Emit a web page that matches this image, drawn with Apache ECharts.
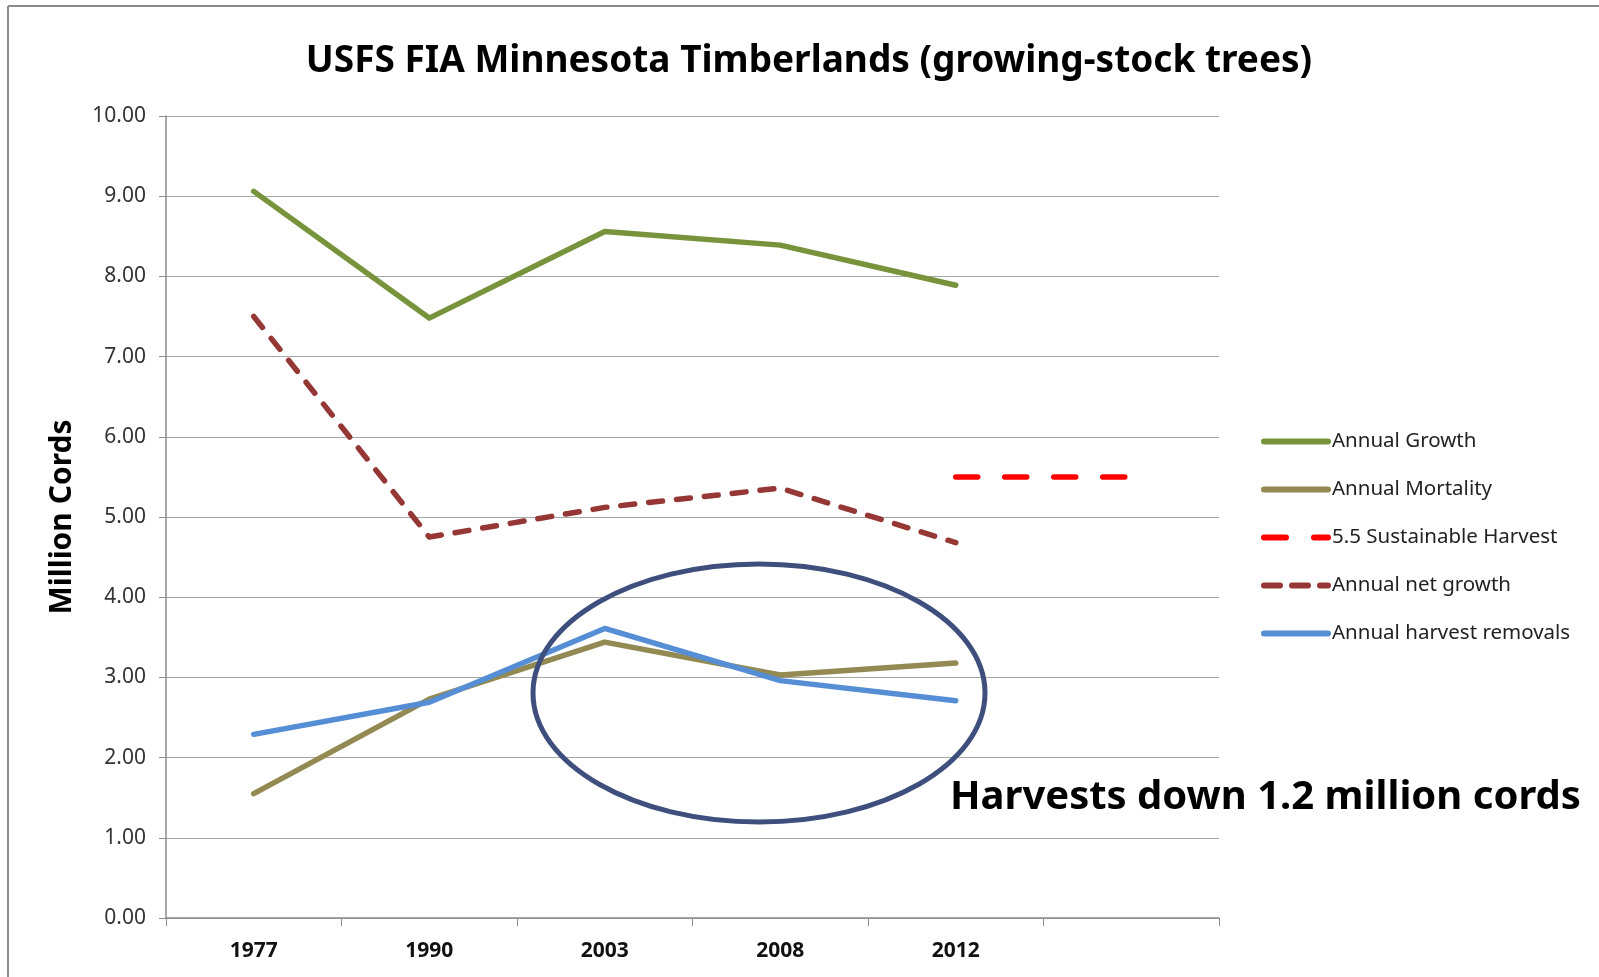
<!DOCTYPE html>
<html>
<head>
<meta charset="utf-8">
<script src="https://cdn.jsdelivr.net/npm/echarts@6/dist/echarts.min.js"></script>
<style>
  html, body { margin: 0; padding: 0; background: #fff; }
  #chart { width: 1599px; height: 977px; }
</style>
</head>
<body>
<div id="chart"></div>
<script>
// categories (last slot is empty, only the sustainable line reaches it)
const years = ['1977', '1990', '2003', '2008', '2012', ''];

const annualGrowth = [9.06, 7.48, 8.56, 8.39, 7.89, null];
const annualMortality = [1.55, 2.73, 3.44, 3.03, 3.18, null];
const sustainableHarvest = [null, null, null, null, 5.5, 5.5];
const annualNetGrowth = [7.50, 4.75, 5.12, 5.36, 4.68, null];
const harvestRemovals = [2.29, 2.69, 3.61, 2.96, 2.71, null];

const yTicks = [0, 10, 1]; // min, max, step

const FONT = '"Noto Sans", "Open Sans", sans-serif';

// legend icons drawn in a 70x6 box (solid bar / long dashes / short dashes)
const ICON_SOLID = 'path://M3,0 H67 A3,3 0 0 1 67,6 H3 A3,3 0 0 1 3,0 Z';
const ICON_LONGDASH = 'path://M3,0 H25 A3,3 0 0 1 25,6 H3 A3,3 0 0 1 3,0 Z M53,0 H67 A3,3 0 0 1 67,6 H53 A3,3 0 0 1 53,0 Z';
const ICON_SHORTDASH = 'path://M3,0 H19 A3,3 0 0 1 19,6 H3 A3,3 0 0 1 3,0 Z M31,0 H47 A3,3 0 0 1 47,6 H31 A3,3 0 0 1 31,0 Z M59,0 H67 A3,3 0 0 1 67,6 H59 A3,3 0 0 1 59,0 Z';

const chart = echarts.init(document.getElementById('chart'));

function lineSeries(name, data, color, type) {
    return {
        name: name,
        type: 'line',
        data: data,
        symbol: 'none',
        connectNulls: false,
        lineStyle: { color: color, width: 5.5, type: type || 'solid', cap: 'round', join: 'round' },
        itemStyle: { color: color },
        emphasis: { disabled: true }
    };
}

const option = {
    backgroundColor: '#fff',
    animation: false,
    title: {
        text: 'USFS FIA Minnesota Timberlands (growing-stock trees)',
        left: 804,
        top: 38,
        textAlign: 'center',
        textStyle: { fontFamily: FONT, fontWeight: 'bold', fontSize: 37, color: '#000' }
    },
    grid: { left: 166, right: 380, top: 116, bottom: 59 },
    legend: {
        orient: 'vertical',
        left: 1256,
        top: 426,
        itemWidth: 70,
        itemHeight: 6,
        itemGap: 27,
        textStyle: { fontFamily: FONT, fontSize: 20.5, color: '#222', padding: [0, 0, 0, -4] },
        data: [
            { name: 'Annual Growth', icon: ICON_SOLID },
            { name: 'Annual Mortality', icon: ICON_SOLID },
            { name: '5.5 Sustainable Harvest', icon: ICON_LONGDASH },
            { name: 'Annual net growth', icon: ICON_SHORTDASH },
            { name: 'Annual harvest removals', icon: ICON_SOLID }
        ]
    },
    xAxis: {
        type: 'category',
        data: years,
        boundaryGap: true,
        axisLine: { lineStyle: { color: '#8c8c8c', width: 1.5 } },
        axisTick: { show: true, length: 8, lineStyle: { color: '#8c8c8c' } },
        axisLabel: { fontFamily: FONT, fontWeight: 'bold', fontSize: 21, color: '#111', margin: 23 }
    },
    yAxis: {
        type: 'value',
        min: yTicks[0],
        max: yTicks[1],
        interval: yTicks[2],
        name: 'Million Cords',
        nameLocation: 'center',
        nameGap: 89,
        nameTextStyle: { fontFamily: FONT, fontWeight: 'bold', fontSize: 30, color: '#000' },
        axisLine: { show: true, lineStyle: { color: '#8c8c8c', width: 1.5 } },
        axisTick: { show: true, length: 7, lineStyle: { color: '#8c8c8c' } },
        splitLine: { lineStyle: { color: '#a6a6a6', width: 1.2 } },
        axisLabel: {
            fontFamily: FONT, fontSize: 21, color: '#333', margin: 20,
            formatter: (v) => v.toFixed(2)
        }
    },
    series: [
        lineSeries('Annual Growth', annualGrowth, '#77933c'),
        lineSeries('Annual Mortality', annualMortality, '#938953'),
        lineSeries('5.5 Sustainable Harvest', sustainableHarvest, '#ff0000', [22, 27]),
        lineSeries('Annual net growth', annualNetGrowth, '#953735', [14, 14]),
        lineSeries('Annual harvest removals', harvestRemovals, '#558ed5')
    ],
    graphic: [
        // outer frame (left + top edges visible)
        { type: 'line', shape: { x1: 8, y1: 6, x2: 1599, y2: 6 }, style: { stroke: '#8a8a8a', lineWidth: 2 }, silent: true },
        { type: 'line', shape: { x1: 8, y1: 6, x2: 8, y2: 977 }, style: { stroke: '#8a8a8a', lineWidth: 2 }, silent: true },
        // highlight ellipse
        {
            type: 'ellipse',
            shape: { cx: 759, cy: 693, rx: 226, ry: 129 },
            style: { fill: 'none', stroke: '#3e4f7d', lineWidth: 5 },
            z: 10,
            silent: true
        },
        {
            type: 'text',
            left: 950,
            top: 778,
            style: {
                text: 'Harvests down 1.2 million cords',
                fontFamily: FONT, fontWeight: 'bold', fontSize: 40, fill: '#000'
            },
            z: 10
        }
    ]
};

chart.setOption(option);
window.addEventListener('resize', () => chart.resize());
</script>
</body>
</html>
